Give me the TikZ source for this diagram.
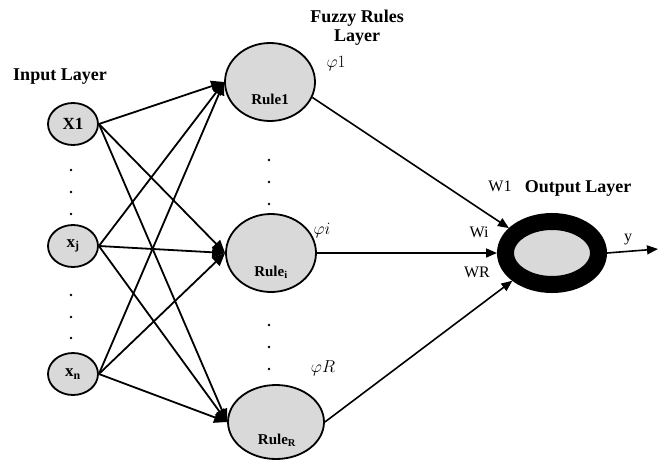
\documentclass[tikz,border=0pt]{standalone}
\usepackage{fontspec}
\setmainfont{Liberation Serif}
\usetikzlibrary{arrows.meta,shapes.geometric}
\begin{document}
\begin{tikzpicture}[x=1pt,y=-1pt,
  nd/.style={ellipse,draw,line width=1.8pt,fill=black!15,inner sep=0pt},
  inode/.style={nd,minimum width=50pt,minimum height=42pt,font=\fontsize{17}{18}\selectfont\bfseries},
  rnode/.style={nd,minimum width=90pt,minimum height=78pt},
  rtext/.style={font=\fontsize{15}{16}\selectfont\bfseries,inner sep=0pt},
  ltext/.style={font=\fontsize{18}{19}\selectfont\bfseries,align=center,inner sep=0pt},
  wtext/.style={font=\fontsize{16}{17}\selectfont,inner sep=0pt},
  ptext/.style={font=\fontsize{17}{18}\selectfont,inner sep=0pt},
  inarrow/.style={line width=1.8pt,-{Triangle[length=13pt,width=11pt]}},
  outarrow/.style={line width=1.6pt,-{Triangle[length=11pt,width=9pt]}},
  dot/.style={circle,fill=black,inner sep=0pt,minimum size=2.8pt}
]
\useasboundingbox (0,0) rectangle (658,463);

% input nodes
\node[inode] (X1) at (73,124) {X1};
\node[inode] (Xj) at (73,246) {x\textsubscript{j}};
\node[inode] (Xn) at (73,374) {x\textsubscript{n}};

% rule nodes
\node[rnode] (R1) at (270,82) {};
\node[rnode] (Ri) at (271,253) {};
\node[rnode,minimum width=96pt,minimum height=74pt] (RR) at (276,422) {};
\node[rtext] (R1t) at (270,99) {Rule1};
\node[rtext] (Rit) at (271,272) {Rule\textsubscript{i}};
\node[rtext] (RRt) at (277,440) {Rule\textsubscript{R}};

% output node
\node[ellipse,draw,line width=17pt,fill=black!15,minimum width=93pt,minimum height=63pt,inner sep=0pt] (O) at (552,253) {};
\coordinate (yend) at (658,249);

% layer labels
\node[ltext] (Lin) at (60,77) {Input Layer};
\node[ltext] (Lfz) at (357,28) {Fuzzy Rules\\Layer};
\node[ltext] (Lout) at (578,188) {Output Layer};

% phi labels
\node[ptext] (p1) at (336,64) {$\varphi 1$};
\node[ptext] (pi) at (322,231) {$\varphi i$};
\node[ptext] (pR) at (323,368) {$\varphi R$};

% weights
\node[wtext] (W1) at (500,186) {W1};
\node[wtext] (Wi) at (479,232) {Wi};
\node[wtext] (WR) at (477,272) {WR};
\node[wtext] (yl) at (628,240) {y};

% dots
\foreach \yy in {170,192,214,295,317,338}{\node[dot] at (71,\yy) {};}
\foreach \yy in {160,182,204,325,347,369}{\node[dot] at (269,\yy) {};}

% input -> rule connectors
\foreach \s in {X1,Xj,Xn}{
  \foreach \t in {R1,Ri,RR}{
    \draw[inarrow] (\s.east) -- (\t.west);
  }
}

% rule -> output
\draw[outarrow] (R1.-20) -- (O.150);
\draw[outarrow] (Ri.east) -- (O.west);
\draw[outarrow] (RR.east) -- (O.215);
\draw[outarrow] (O.east) -- (yend);
\end{tikzpicture}
\end{document}
